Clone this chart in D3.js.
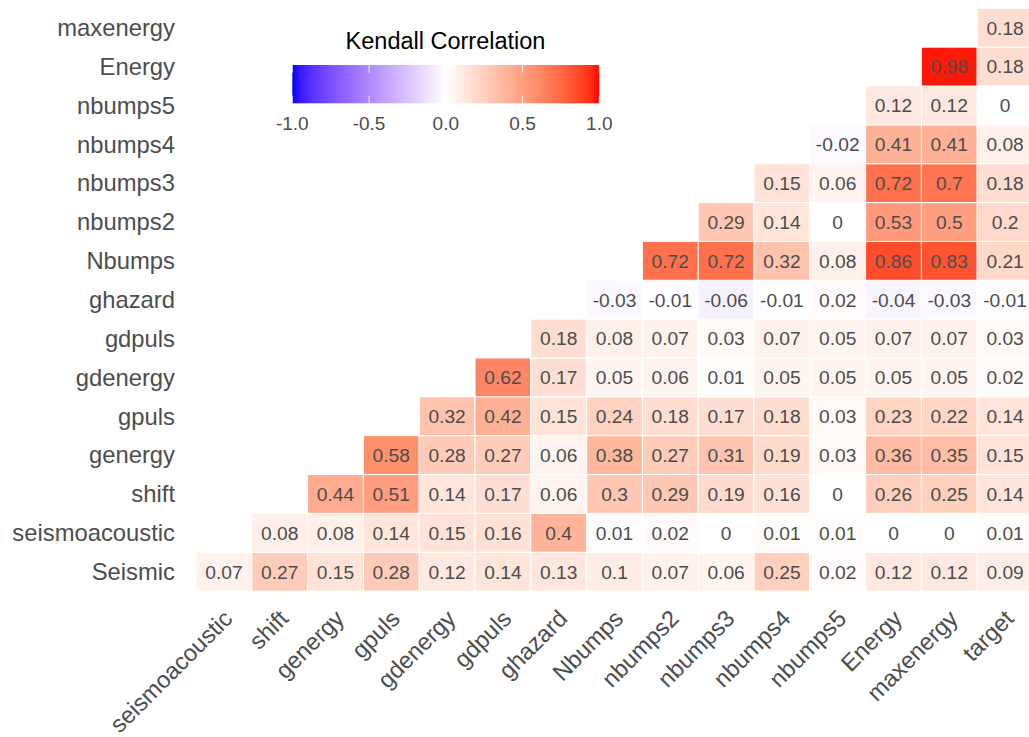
<!DOCTYPE html>
<html>
<head>
<meta charset="utf-8">
<script src="https://cdn.jsdelivr.net/npm/d3@7"></script>
<style>
  html, body { margin: 0; padding: 0; background: #fff; }
  svg { display: block; font-family: "Liberation Sans", Arial, Helvetica, sans-serif; }
</style>
</head>
<body>
<svg id="chart" width="1029" height="737"></svg>
<script>
// Variables on the x axis (left to right) and y axis (bottom to top)
const xVars = ["seismoacoustic", "shift", "genergy", "gpuls", "gdenergy", "gdpuls", "ghazard",
  "Nbumps", "nbumps2", "nbumps3", "nbumps4", "nbumps5", "Energy", "maxenergy", "target"];
const yVars = ["Seismic", "seismoacoustic", "shift", "genergy", "gpuls", "gdenergy", "gdpuls",
  "ghazard", "Nbumps", "nbumps2", "nbumps3", "nbumps4", "nbumps5", "Energy", "maxenergy"];

// Kendall correlations, one array per row; row k starts at x column k
const corrSeismic        = [0.07, 0.27, 0.15, 0.28, 0.12, 0.14, 0.13, 0.1, 0.07, 0.06, 0.25, 0.02, 0.12, 0.12, 0.09];
const corrSeismoacoustic = [0.08, 0.08, 0.14, 0.15, 0.16, 0.4, 0.01, 0.02, 0, 0.01, 0.01, 0, 0, 0.01];
const corrShift          = [0.44, 0.51, 0.14, 0.17, 0.06, 0.3, 0.29, 0.19, 0.16, 0, 0.26, 0.25, 0.14];
const corrGenergy        = [0.58, 0.28, 0.27, 0.06, 0.38, 0.27, 0.31, 0.19, 0.03, 0.36, 0.35, 0.15];
const corrGpuls          = [0.32, 0.42, 0.15, 0.24, 0.18, 0.17, 0.18, 0.03, 0.23, 0.22, 0.14];
const corrGdenergy       = [0.62, 0.17, 0.05, 0.06, 0.01, 0.05, 0.05, 0.05, 0.05, 0.02];
const corrGdpuls         = [0.18, 0.08, 0.07, 0.03, 0.07, 0.05, 0.07, 0.07, 0.03];
const corrGhazard        = [-0.03, -0.01, -0.06, -0.01, 0.02, -0.04, -0.03, -0.01];
const corrNbumps         = [0.72, 0.72, 0.32, 0.08, 0.86, 0.83, 0.21];
const corrNbumps2        = [0.29, 0.14, 0, 0.53, 0.5, 0.2];
const corrNbumps3        = [0.15, 0.06, 0.72, 0.7, 0.18];
const corrNbumps4        = [-0.02, 0.41, 0.41, 0.08];
const corrNbumps5        = [0.12, 0.12, 0];
const corrEnergy         = [0.98, 0.18];
const corrMaxenergy      = [0.18];

const legendTitle = "Kendall Correlation";
const legendTicks = [-1, -0.5, 0, 0.5, 1];

const rows = [corrSeismic, corrSeismoacoustic, corrShift, corrGenergy, corrGpuls, corrGdenergy,
  corrGdpuls, corrGhazard, corrNbumps, corrNbumps2, corrNbumps3, corrNbumps4, corrNbumps5,
  corrEnergy, corrMaxenergy];

const cells = [];
rows.forEach((vals, r) => {
  vals.forEach((v, i) => cells.push({ x: xVars[r + i], y: yVars[r], v }));
});

const svg = d3.select("#chart");
const panel = { left: 196, top: 8.3, width: 55.8 * 15, height: 38.85 * 15 };

const x = d3.scaleBand().domain(xVars).range([panel.left, panel.left + panel.width]);
const y = d3.scaleBand().domain(yVars).range([panel.top + panel.height, panel.top]);

// diverging fill: blue - white - red, interpolated in Lab
const fillNeg = d3.scaleLinear().domain([-1, 0]).range(["blue", "white"]).interpolate(d3.interpolateLab);
const fillPos = d3.scaleLinear().domain([0, 1]).range(["white", "red"]).interpolate(d3.interpolateLab);
const fill = v => (v < 0 ? fillNeg(v) : fillPos(v));

const textGrey = "#4d4d4d";

// tiles
svg.append("g").selectAll("rect").data(cells).join("rect")
  .attr("x", d => x(d.x))
  .attr("y", d => y(d.y))
  .attr("width", x.bandwidth())
  .attr("height", y.bandwidth())
  .attr("fill", d => fill(d.v))
  .attr("stroke", "white")
  .attr("stroke-width", 1);

// value labels
svg.append("g").selectAll("text").data(cells).join("text")
  .attr("x", d => x(d.x) + x.bandwidth() / 2)
  .attr("y", d => y(d.y) + y.bandwidth() / 2)
  .attr("dy", "0.36em")
  .attr("text-anchor", "middle")
  .attr("font-size", 19.2)
  .attr("fill", textGrey)
  .text(d => String(d.v));

// y axis labels
const yAxis = d3.axisLeft(y).tickSize(0).tickPadding(0);
const gy = svg.append("g").attr("transform", `translate(175,0)`).call(yAxis);
gy.select(".domain").remove();
gy.selectAll("text").attr("font-size", 23.8).attr("fill", textGrey)
  .attr("dy", "0.35em")
  .attr("font-family", "Liberation Sans, Arial, sans-serif");

// x axis labels, rotated 45 degrees
const xAxis = d3.axisBottom(x).tickSize(0).tickPadding(0);
const gx = svg.append("g").attr("transform", `translate(0,${panel.top + panel.height})`).call(xAxis);
gx.select(".domain").remove();
gx.selectAll("text")
  .attr("font-size", 23.6)
  .attr("fill", textGrey)
  .attr("font-family", "Liberation Sans, Arial, sans-serif")
  .attr("text-anchor", "end")
  .attr("dy", "0.72em")
  .attr("y", 0)
  .attr("transform", "translate(-2,17) rotate(-45)");

// colour bar legend
const bar = { x0: 292.3, x1: 599.3, y0: 65, y1: 103.3 };
const lx = d3.scaleLinear().domain([-1, 1]).range([bar.x0, bar.x1]);
const defs = svg.append("defs");
const grad = defs.append("linearGradient").attr("id", "corrGrad")
  .attr("x1", "0%").attr("x2", "100%").attr("y1", "0%").attr("y2", "0%");
d3.range(-1, 1.0001, 0.05).forEach(v => {
  grad.append("stop").attr("offset", `${(v + 1) * 50}%`).attr("stop-color", fill(v));
});
const legend = svg.append("g");
legend.append("text")
  .attr("x", 445.5).attr("y", 49)
  .attr("text-anchor", "middle")
  .attr("font-size", 23.5)
  .attr("fill", "#000")
  .text(legendTitle);
legend.append("rect")
  .attr("x", bar.x0).attr("y", bar.y0)
  .attr("width", bar.x1 - bar.x0).attr("height", bar.y1 - bar.y0)
  .attr("fill", "url(#corrGrad)");
const tickLen = (bar.y1 - bar.y0) / 5;
legendTicks.forEach(t => {
  legend.append("line")
    .attr("x1", lx(t)).attr("x2", lx(t))
    .attr("y1", bar.y0).attr("y2", bar.y0 + tickLen)
    .attr("stroke", "white").attr("stroke-opacity", 0.85).attr("stroke-width", 1);
  legend.append("line")
    .attr("x1", lx(t)).attr("x2", lx(t))
    .attr("y1", bar.y1 - tickLen).attr("y2", bar.y1)
    .attr("stroke", "white").attr("stroke-opacity", 0.85).attr("stroke-width", 1);
});
legend.selectAll("text.tick").data(legendTicks).join("text")
  .attr("class", "tick")
  .attr("x", d => lx(d))
  .attr("y", 130)
  .attr("text-anchor", "middle")
  .attr("font-size", 19)
  .attr("fill", textGrey)
  .text(d => d3.format(".1f")(d).replace("−", "-"));
</script>
</body>
</html>
